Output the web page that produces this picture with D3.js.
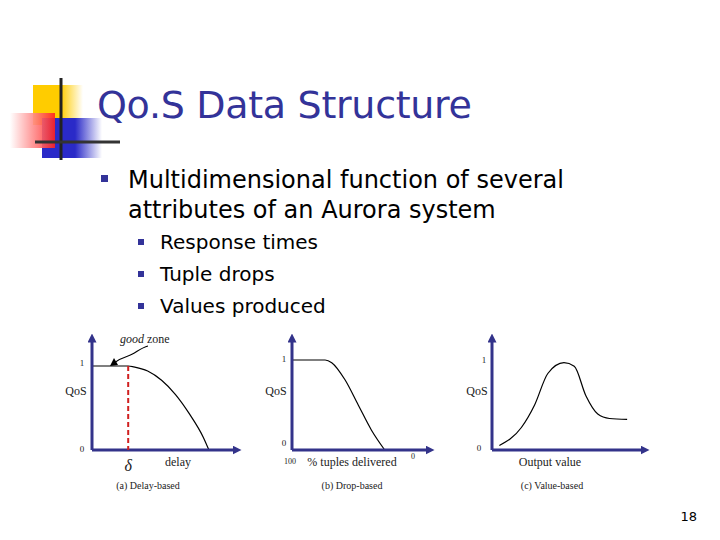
<!DOCTYPE html><html><head><meta charset="utf-8"><script src="https://cdn.jsdelivr.net/npm/d3@7"></script>
<style>body{margin:0;background:#fff}</style></head><body><svg id="s" width="720" height="540"></svg>
<script>
const bullets=["Multidimensional function of several","attributes of an Aurora system"];
const subBullets=["Response times","Tuple drops","Values produced"];
// curve data, normalized x in [0,1], y QoS in [0,1]
const delayCurve=[[0,1],[0.26,1],[0.3,0.99],[0.4,0.94],[0.5,0.83],[0.6,0.66],[0.7,0.43],[0.8,0.15],[0.84,0]];
const dropCurve=[[0,1],[0.25,1],[0.3,0.97],[0.4,0.78],[0.5,0.5],[0.6,0.22],[0.7,0]];
const valueCurve=[[0.05,0.05],[0.2,0.25],[0.29,0.5],[0.38,0.85],[0.49,0.97],[0.56,0.93],[0.64,0.6],[0.72,0.4],[0.8,0.35],[0.92,0.34]];
const charts=[
 {x0:92,x1:237,curve:delayCurve,xlab:"delay",cap:"(a) Delay-based",capx:148,ylab1:[82,366],ylab0:[82,452],qos:[76,395],xlabx:178},
 {x0:292,x1:430,curve:dropCurve,xlab:"% tuples delivered",cap:"(b) Drop-based",capx:352,ylab1:[284,362],ylab0:[284,446],qos:[276,395],xlabx:352},
 {x0:492,x1:645,curve:valueCurve,xlab:"Output value",cap:"(c) Value-based",capx:552,ylab1:[484,363],ylab0:[479,451],qos:[477,395],xlabx:550}];
const svg=d3.select("#s");
const defs=svg.append("defs");
function grad(id,c){const g=defs.append("linearGradient").attr("id",id);g.append("stop").attr("offset","0").attr("stop-color",c);g.append("stop").attr("offset","0.55").attr("stop-color",c);g.append("stop").attr("offset","1").attr("stop-color","#fff");}
grad("gy","#ffcc00");
const gr=defs.append("linearGradient").attr("id","gr");gr.append("stop").attr("offset","0").attr("stop-color","#fff");gr.append("stop").attr("offset","1").attr("stop-color","#ff2020");
grad("gb","#2a2ac8");
svg.append("rect").attr("x",33).attr("y",85).attr("width",50).attr("height",40).attr("fill","url(#gy)");
svg.append("rect").attr("x",42).attr("y",118).attr("width",60).attr("height",40).attr("fill","url(#gb)");
svg.append("rect").attr("x",10).attr("y",113).attr("width",45).attr("height",35).attr("fill","url(#gr)").attr("opacity",0.9);
svg.append("line").attr("x1",61).attr("x2",61).attr("y1",78).attr("y2",160).attr("stroke","#222").attr("stroke-width",3);
svg.append("line").attr("x1",35).attr("x2",120).attr("y1",142).attr("y2",142).attr("stroke","#333").attr("stroke-width",3);
svg.append("text").attr("x",97).attr("y",118).attr("font-family","Verdana, DejaVu Sans").attr("font-size",38).attr("fill","#333399").attr("textLength",375).text("Qo.S Data Structure");
const F="Verdana, DejaVu Sans";
svg.append("rect").attr("x",101).attr("y",175).attr("width",7).attr("height",7).attr("fill","#333399");
bullets.forEach((t,i)=>svg.append("text").attr("x",128).attr("y",188+i*30).attr("font-family",F).attr("font-size",24).text(t));
subBullets.forEach((t,i)=>{svg.append("rect").attr("x",138).attr("y",239+i*32).attr("width",6).attr("height",6).attr("fill","#333399");
 svg.append("text").attr("x",160).attr("y",249+i*32).attr("font-family",F).attr("font-size",20).text(t);});
svg.append("text").attr("x",697).attr("y",521).attr("text-anchor","end").attr("font-family",F).attr("font-size",13).text("18");
defs.append("marker").attr("id","ar").attr("viewBox","0 0 10 10").attr("refX",5).attr("refY",5).attr("markerWidth",3).attr("markerHeight",3).attr("orient","auto").append("path").attr("d","M0,0L10,5L0,10z").attr("fill","#33338a");
const T="Liberation Serif, Times New Roman, serif";
charts.forEach((c,ci)=>{
 const xs=d3.scaleLinear().domain([0,1]).range([c.x0,c.x0+(c.x1-c.x0)*0.96]);
 const top=ci==0?366:360;
 const ys=d3.scaleLinear().domain([0,1]).range([450,top]);
 const g=svg.append("g");
 g.append("path").datum(c.curve).attr("d",d3.line().x(d=>xs(d[0])).y(d=>ys(d[1])).curve(d3.curveMonotoneX)).attr("fill","none").attr("stroke","#000").attr("stroke-width",1.2);
 g.append("line").attr("x1",c.x0).attr("x2",c.x0).attr("y1",450).attr("y2",338).attr("stroke","#33338a").attr("stroke-width",3).attr("marker-end","url(#ar)");
 g.append("line").attr("x1",c.x0).attr("x2",c.x1).attr("y1",450).attr("y2",450).attr("stroke","#33338a").attr("stroke-width",3).attr("marker-end","url(#ar)");
 const st=(x,y,t,s,a)=>g.append("text").attr("x",x).attr("y",y).attr("font-family",T).attr("font-size",s||11).attr("text-anchor",a||"middle").attr("fill","#222").text(t);
 st(c.ylab1[0],c.ylab1[1],"1",9);st(c.ylab0[0],c.ylab0[1],"0",9);st(c.qos[0],c.qos[1],"QoS",12);
 st(c.xlabx,466,c.xlab,12);st(c.capx,489,c.cap,10);
 if(ci==0){
  g.append("line").attr("x1",xs(0.26)).attr("x2",xs(0.26)).attr("y1",ys(1)).attr("y2",450).attr("stroke","#d02020").attr("stroke-width",2).attr("stroke-dasharray","5,3");
  st(xs(0.26),471,"δ",16).attr("font-style","italic");
  g.append("text").attr("x",120).attr("y",343).attr("font-family",T).attr("font-size",12).attr("fill","#222").html('<tspan font-style="italic">good</tspan> zone');
  g.append("path").attr("d","M148,346 C140,348 135,354 128,356 C122,358 118,360 114,363").attr("fill","none").attr("stroke","#000").attr("stroke-width",1.2);
  g.append("path").attr("d","M110,366 L114,358 L118,365z").attr("fill","#000");
 }
 if(ci==1){st(290,464,"100",8);st(413,459,"0",8);}
});
</script></body></html>
